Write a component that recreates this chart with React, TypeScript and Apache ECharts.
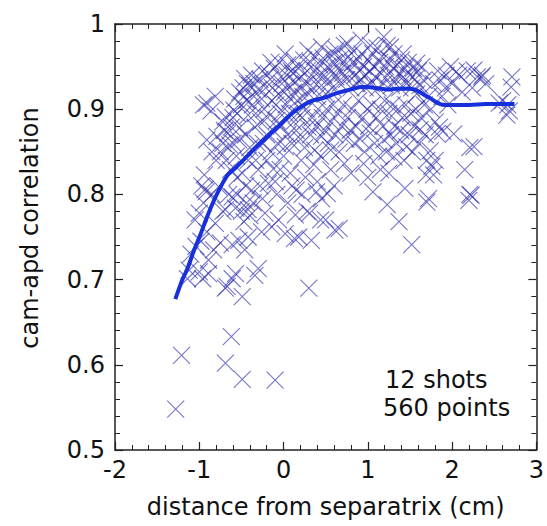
import React, { useEffect, useRef } from "react";
import * as echarts from "echarts";

// x: distance from separatrix (cm), y: cam-apd correlation
const scatterPoints: [number, number][] = [
  // sparse lower / left region
  [-1.28, 0.548], [-1.21, 0.611], [-0.62, 0.633], [-0.69, 0.602], [-0.49, 0.583], [-0.10, 0.582],
  [-0.49, 0.680], [-0.69, 0.690], [0.30, 0.690], [-0.30, 0.713], [-0.57, 0.707], [-1.00, 0.709], [-1.12, 0.711],
  [-1.14, 0.701], [-0.96, 0.701], [-0.89, 0.707], [-1.04, 0.739], [-0.91, 0.756], [-1.00, 0.778], [-0.83, 0.735],
  [-0.75, 0.743], [-0.61, 0.741], [-0.53, 0.746], [-0.42, 0.750], [-0.46, 0.735], [-0.61, 0.701], [-0.34, 0.705],
  [-0.67, 0.692], [-0.69, 0.782], [-0.57, 0.784], [-0.42, 0.782], [-0.22, 0.778], [-0.06, 0.770], [0.02, 0.754],
  [-0.14, 0.762], [-0.26, 0.756], [-0.47, 0.768], [-0.81, 0.766], [-0.89, 0.723],
  [-0.93, 0.806], [-0.97, 0.81], [-0.95, 0.79], [-0.94, 0.823], [-0.92, 0.803], [-0.77, 0.809], [-0.63, 0.829],
  [-0.53, 0.864], [-0.62, 0.879], [-0.91, 0.864], [-0.79, 0.868], [-0.75, 0.850], [-0.91, 0.907], [-0.81, 0.915],
  [-0.69, 0.891], [-0.95, 0.905], [-0.86, 0.898],
  [-0.46, 0.936], [-0.38, 0.940], [-0.30, 0.923], [-0.47, 0.915], [-0.59, 0.899], [-0.42, 0.893], [-0.34, 0.879],
  [-0.24, 0.860], [-0.42, 0.840], [-0.49, 0.825], [-0.30, 0.829], [-0.18, 0.813], [-0.38, 0.805], [-0.61, 0.797],
  [-0.04, 0.829], [0.02, 0.856], [-0.08, 0.887], [-0.14, 0.910], [-0.03, 0.938], [0.05, 0.952], [-0.18, 0.942],
  [-0.85, 0.850], [-0.80, 0.840], [-0.72, 0.860], [-0.68, 0.840], [-0.60, 0.860], [-0.55, 0.820], [-0.45, 0.810],
  [-0.44, 0.790], [-0.50, 0.780], [-0.40, 0.775], [-0.36, 0.790], [-0.55, 0.800], [-0.65, 0.800], [-0.72, 0.780],
  [-0.85, 0.800], [-0.70, 0.875], [-0.60, 0.890], [-0.52, 0.920], [-0.43, 0.930], [-0.35, 0.930], [-0.25, 0.945],
  [-0.15, 0.955], [-0.05, 0.955], [0.02, 0.965], [-0.33, 0.840], [-0.20, 0.840], [-0.12, 0.830], [-0.28, 0.810],
  [-0.08, 0.800], [0.10, 0.810], [-1.05, 0.770], [-1.10, 0.730], [-0.98, 0.745],
  // middle lower
  [0.33, 0.746], [0.31, 0.778], [0.50, 0.770], [0.66, 0.760], [0.13, 0.748], [0.52, 0.801], [0.39, 0.803],
  [0.18, 0.750], [0.14, 0.776], [0.44, 0.770], [0.28, 0.780], [0.61, 0.758],
  [1.52, 0.741], [1.37, 0.768], [1.23, 0.788], [1.06, 0.803], [1.44, 0.807], [1.70, 0.791], [1.72, 0.795],
  [2.20, 0.793], [2.225, 0.799],
  // right region
  [2.65, 0.893], [2.56, 0.907], [2.71, 0.938], [2.70, 0.926], [2.26, 0.856], [2.15, 0.829], [2.36, 0.940],
  [2.26, 0.946], [2.05, 0.944], [1.93, 0.940], [1.85, 0.879], [1.89, 0.874], [1.80, 0.885], [1.80, 0.840],
  [1.76, 0.833], [1.78, 0.823], [2.02, 0.871], [1.82, 0.871], [1.74, 0.851], [1.69, 0.823], [2.21, 0.855],
  [2.21, 0.800], [1.98, 0.950], [1.86, 0.934], [2.35, 0.938], [2.68, 0.898],
  // upper envelope and lower edge of dense cloud
  [0.29, 0.969], [0.45, 0.973], [0.60, 0.965], [0.76, 0.977], [0.92, 0.981], [1.03, 0.975], [1.19, 0.985],
  [1.27, 0.973], [1.42, 0.965], [1.58, 0.954], [1.66, 0.934], [0.13, 0.957], [0.11, 0.942],
  [0.17, 0.895], [0.29, 0.879], [0.45, 0.868], [0.56, 0.852], [0.72, 0.836], [0.21, 0.840], [0.37, 0.852],
  [0.84, 0.860], [1.03, 0.872], [1.19, 0.864], [1.31, 0.844], [1.46, 0.856], [1.62, 0.876], [1.70, 0.840],
  [0.95, 0.836], [1.15, 0.829], [0.56, 0.829], [0.80, 0.825],
  // dense band
  [-0.72, 0.885], [-0.66, 0.872], [-0.58, 0.912], [-0.55, 0.895], [-0.52, 0.878], [-0.64, 0.858], [-0.56, 0.845],
  [-0.50, 0.905], [-0.48, 0.925], [-0.44, 0.910], [-0.40, 0.928], [-0.37, 0.905], [-0.35, 0.915], [-0.33, 0.895],
  [-0.28, 0.935], [-0.26, 0.912], [-0.23, 0.900], [-0.21, 0.925], [-0.19, 0.890], [-0.16, 0.935], [-0.13, 0.925],
  [-0.11, 0.948], [-0.09, 0.905], [-0.06, 0.918], [-0.04, 0.895], [-0.02, 0.930], [0.01, 0.920], [0.03, 0.905],
  [0.04, 0.940], [0.06, 0.928], [0.08, 0.912], [0.09, 0.945], [0.12, 0.920], [0.14, 0.932], [0.16, 0.910],
  [0.18, 0.948], [0.19, 0.925], [0.21, 0.938], [0.23, 0.915], [0.24, 0.958], [0.26, 0.930], [0.28, 0.945],
  [0.30, 0.918], [0.32, 0.955], [0.33, 0.935], [0.35, 0.925], [0.37, 0.962], [0.38, 0.945], [0.40, 0.915],
  [0.42, 0.938], [0.43, 0.952], [0.45, 0.928], [0.47, 0.960], [0.48, 0.940], [0.50, 0.918], [0.52, 0.950],
  [0.54, 0.932], [0.55, 0.965], [0.57, 0.945], [0.58, 0.925], [0.60, 0.955], [0.62, 0.938], [0.63, 0.970],
  [0.65, 0.948], [0.67, 0.930], [0.68, 0.960], [0.70, 0.942], [0.72, 0.975], [0.73, 0.952], [0.75, 0.935],
  [0.77, 0.962], [0.78, 0.945], [0.80, 0.925], [0.82, 0.955], [0.83, 0.968], [0.85, 0.940], [0.87, 0.930],
  [0.88, 0.958], [0.90, 0.945], [0.92, 0.935], [0.93, 0.965], [0.95, 0.950], [0.97, 0.925], [0.98, 0.940],
  [1.00, 0.958], [1.02, 0.945], [1.04, 0.930], [1.06, 0.965], [1.07, 0.950], [1.09, 0.938], [1.11, 0.972],
  [1.12, 0.925], [1.14, 0.955], [1.16, 0.942], [1.17, 0.962], [1.19, 0.930], [1.21, 0.950], [1.23, 0.975],
  [1.24, 0.940], [1.26, 0.958], [1.28, 0.928], [1.30, 0.948], [1.31, 0.965], [1.33, 0.935], [1.35, 0.952],
  [1.37, 0.942], [1.38, 0.925], [1.40, 0.958], [1.42, 0.938], [1.44, 0.948], [1.46, 0.930], [1.48, 0.955],
  [1.50, 0.940], [1.52, 0.925], [1.54, 0.948], [1.56, 0.935], [1.58, 0.918], [1.60, 0.945], [1.62, 0.928],
  [1.64, 0.950],
  // middle band
  [-0.45, 0.870], [-0.40, 0.855], [-0.31, 0.860], [-0.27, 0.885], [-0.20, 0.870], [-0.15, 0.850], [-0.12, 0.875],
  [-0.07, 0.860], [-0.03, 0.880], [0.00, 0.845], [0.05, 0.870], [0.07, 0.895], [0.10, 0.860], [0.12, 0.885],
  [0.15, 0.875], [0.20, 0.865], [0.22, 0.890], [0.25, 0.855], [0.27, 0.900], [0.32, 0.870], [0.34, 0.890],
  [0.36, 0.835], [0.39, 0.880], [0.41, 0.900], [0.44, 0.845], [0.46, 0.890], [0.49, 0.875], [0.51, 0.900],
  [0.53, 0.860], [0.56, 0.885], [0.59, 0.905], [0.61, 0.870], [0.64, 0.895], [0.66, 0.850], [0.69, 0.880],
  [0.71, 0.905], [0.74, 0.865], [0.76, 0.890], [0.79, 0.875], [0.81, 0.900], [0.86, 0.880], [0.89, 0.910],
  [0.91, 0.865], [0.94, 0.890], [0.96, 0.850], [0.99, 0.900], [1.01, 0.880], [1.05, 0.905], [1.08, 0.860],
  [1.10, 0.890], [1.13, 0.845], [1.15, 0.900], [1.18, 0.880], [1.20, 0.910], [1.22, 0.850], [1.25, 0.895],
  [1.27, 0.870], [1.29, 0.905], [1.32, 0.880], [1.34, 0.860], [1.36, 0.900], [1.39, 0.875], [1.41, 0.890],
  [1.43, 0.840], [1.45, 0.905], [1.49, 0.870], [1.51, 0.895], [1.53, 0.850], [1.55, 0.880], [1.57, 0.900],
  [1.61, 0.860], [1.63, 0.890], [1.67, 0.905], [1.68, 0.870], [1.72, 0.915], [1.75, 0.900], [1.78, 0.930],
  [1.83, 0.945], [1.88, 0.915], [1.92, 0.925], [1.95, 0.905], [2.00, 0.930], [2.08, 0.940], [2.12, 0.920],
  [2.18, 0.945], [2.24, 0.925], [2.30, 0.938], [2.40, 0.930], [2.60, 0.910], [2.66, 0.905],
  // lower part of cloud
  [-0.10, 0.815], [0.08, 0.825], [0.15, 0.805], [0.26, 0.820], [0.40, 0.815], [0.60, 0.810], [0.45, 0.795],
  [0.22, 0.800], [-0.25, 0.795], [0.05, 0.790], [1.00, 0.820], [1.25, 0.825],
];

const trendLine: [number, number][] = [
  [-1.284, 0.677], [-1.2, 0.7], [-1.14, 0.713], [-1.06, 0.735], [-0.99, 0.752], [-0.91, 0.773], [-0.83, 0.792],
  [-0.74, 0.81], [-0.66, 0.823], [-0.56, 0.832], [-0.48, 0.84], [-0.4, 0.848], [-0.32, 0.856], [-0.22, 0.865],
  [-0.15, 0.872], [-0.06, 0.88], [0.01, 0.887], [0.1, 0.895], [0.18, 0.901], [0.26, 0.906], [0.34, 0.91],
  [0.42, 0.912], [0.5, 0.914], [0.58, 0.917], [0.67, 0.92], [0.75, 0.922], [0.83, 0.924], [0.92, 0.926],
  [1.0, 0.926], [1.08, 0.925], [1.16, 0.924], [1.25, 0.923], [1.33, 0.924], [1.41, 0.924], [1.49, 0.924],
  [1.56, 0.923], [1.62, 0.92], [1.68, 0.916], [1.74, 0.913], [1.8, 0.909], [1.86, 0.906], [1.91, 0.905],
  [2.0, 0.905], [2.2, 0.905], [2.4, 0.906], [2.6, 0.906], [2.74, 0.906],
];

const xRange = { min: -2, max: 3, interval: 1 };
const yRange = { min: 0.5, max: 1, interval: 0.1 };
const xTitle = "distance from separatrix (cm)";
const yTitle = "cam-apd correlation";
const noteLines = ["12 shots", "560 points"];

const FONT = "DejaVu Sans";
const AXIS_COLOR = "#222";

function makeAxis(position: string, showLabel: boolean, range: any, extra: any = {}) {
  return {
    type: "value",
    position,
    min: range.min,
    max: range.max,
    interval: range.interval,
    axisLine: { show: true, onZero: false, lineStyle: { color: AXIS_COLOR, width: 1.5 } },
    axisTick: { show: true, inside: true, length: 8, lineStyle: { color: AXIS_COLOR, width: 1.2 } },
    minorTick: { show: true, splitNumber: 5, length: 5, lineStyle: { color: AXIS_COLOR, width: 1 } },
    splitLine: { show: false },
    minorSplitLine: { show: false },
    axisLabel: {
      show: showLabel,
      fontSize: 24,
      fontFamily: FONT,
      color: "#111",
      margin: 8,
    },
    ...extra,
  };
}

export default function App() {
  const ref = useRef<HTMLDivElement>(null);

  useEffect(() => {
    if (!ref.current) return;
    const chart = echarts.init(ref.current, undefined, { renderer: "svg" });
    chart.setOption({
      animation: false,
      backgroundColor: "#fff",
      grid: { left: 115, right: 6, top: 24, bottom: 76, containLabel: false },
      xAxis: [
        makeAxis("bottom", true, xRange, {
          name: xTitle,
          nameLocation: "middle",
          nameGap: 45,
          nameTextStyle: { fontSize: 24, fontFamily: FONT, color: "#111" },
        }),
        makeAxis("top", false, xRange),
      ],
      yAxis: [
        makeAxis("left", true, yRange, { axisLabel: { show: true, fontSize: 24, fontFamily: FONT, color: "#111", margin: 10 } }),
        makeAxis("right", false, yRange),
      ],
      series: [
        {
          type: "scatter",
          xAxisIndex: 0,
          yAxisIndex: 0,
          data: scatterPoints,
          symbol: "path://M0,0L10,10M10,0L0,10",
          symbolSize: 17,
          itemStyle: {
            color: "rgba(0,0,0,0)",
            borderColor: "rgba(40,40,170,0.8)",
            borderWidth: 1.1,
          },
          silent: true,
          z: 2,
        },
        {
          type: "line",
          xAxisIndex: 0,
          yAxisIndex: 0,
          data: trendLine,
          showSymbol: false,
          smooth: 0.3,
          lineStyle: { color: "#1830dc", width: 4 },
          silent: true,
          z: 3,
        },
      ],
      graphic: [
        {
          type: "text",
          x: 30,
          y: 228,
          rotation: Math.PI / 2,
          style: {
            text: yTitle,
            font: `24px "${FONT}"`,
            fill: "#111",
            textAlign: "center",
            textVerticalAlign: "middle",
          },
        },
        {
          type: "text",
          x: 385,
          y: 380,
          style: { text: noteLines[0], font: `24px "${FONT}"`, fill: "#111", textAlign: "left", textVerticalAlign: "middle" },
        },
        {
          type: "text",
          x: 383,
          y: 408,
          style: { text: noteLines[1], font: `24px "${FONT}"`, fill: "#111", textAlign: "left", textVerticalAlign: "middle" },
        },
      ],
    });
    return () => chart.dispose();
  }, []);

  return (
    <div
      ref={ref}
      style={{ position: "absolute", left: 0, top: 0, width: 547, height: 526, background: "#fff" }}
    />
  );
}
